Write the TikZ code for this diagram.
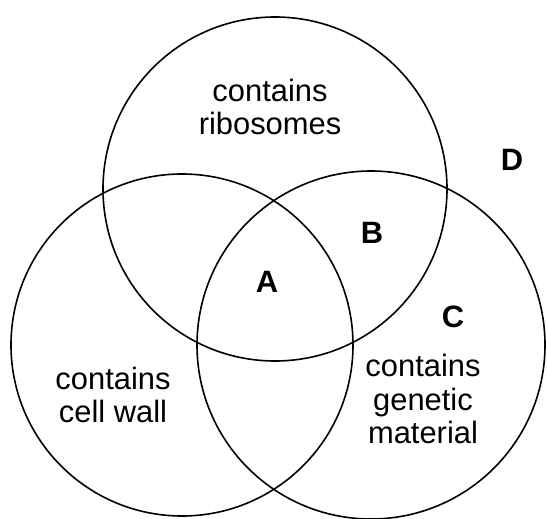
\documentclass[tikz,border=0pt]{standalone}
\usepackage{fontspec}
\setmainfont{Liberation Sans}
\usetikzlibrary{positioning}

\begin{document}
\begin{tikzpicture}[
    x=1bp, y=-1bp,
    venn/.style={circle, draw=black, line width=1.6bp, inner sep=0pt},
    region/.style={align=center, font=\fontsize{31}{34}\selectfont},
    tag/.style={font=\fontsize{31}{34}\selectfont\bfseries},
]
    \useasboundingbox (0,0) rectangle (547,519);
    % the three sets
    \node[venn, minimum size=344bp] (ribo) at (275,189) {};
    \node[venn, minimum size=342bp] (wall) at (182,345) {};
    \node[venn, minimum size=348bp] (gene) at (371,345) {};
    % set texts
    \node[region] (riboText) at (270,107) {contains\\ribosomes};
    \node[region] (wallText) at (113,395) {contains\\cell wall};
    \node[region] (geneText) at (423,399) {contains\\genetic\\material};
    % region letters
    \node[tag] (A) at (267,282) {A};
    \node[tag] (B) at (372,233) {B};
    \node[tag] (C) at (453,317) {C};
    \node[tag] (D) at (512,160) {D};
\end{tikzpicture}
\end{document}
